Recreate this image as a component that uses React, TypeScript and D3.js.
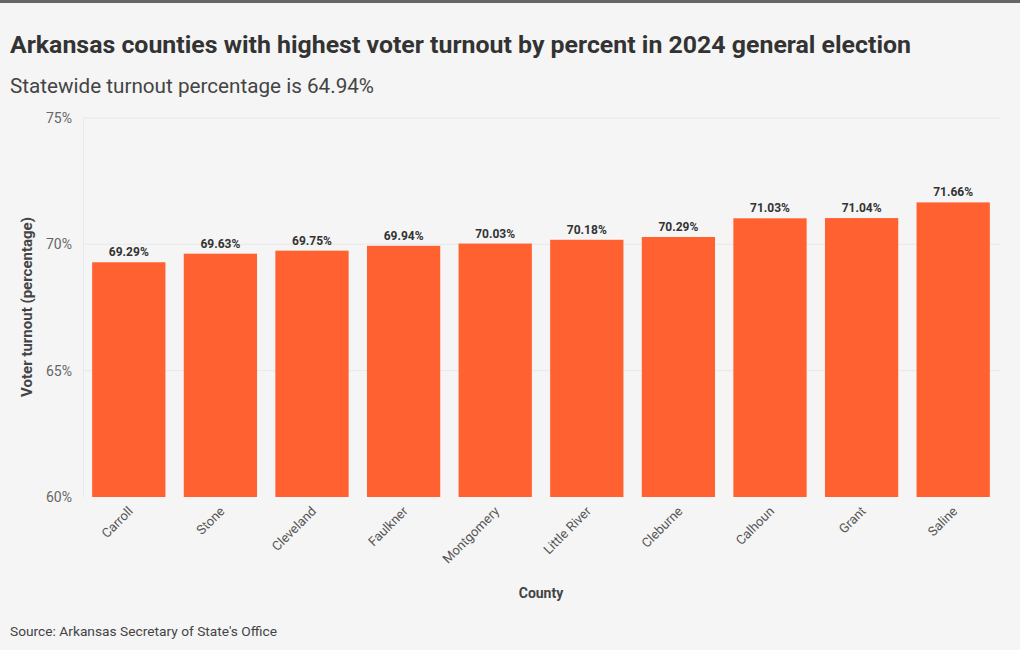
import React from "react";
import * as d3 from "d3";

const counties = ["Carroll", "Stone", "Cleveland", "Faulkner", "Montgomery", "Little River", "Cleburne", "Calhoun", "Grant", "Saline"];
const turnout = [69.29, 69.63, 69.75, 69.94, 70.03, 70.18, 70.29, 71.03, 71.04, 71.66];
const yTicks = [60, 65, 70, 75];

const W = 1020, H = 650;
const FONT = "Roboto, 'Noto Sans', sans-serif";

export default function App() {
  const x = d3.scaleBand<string>().domain(counties).range([83, 999]).paddingInner(0.2).paddingOuter(0.1);
  const y = d3.scaleLinear().domain([60, 75]).range([497, 118]);
  return (
    <svg width={W} height={H} style={{ position: "absolute", left: 0, top: 0, fontFamily: FONT }}>
      <rect x={0} y={0} width={W} height={H} fill="#f5f5f5" />
      <rect x={0} y={0} width={W} height={3} fill="#666666" />
      <text x={10} y={53} fontSize={23} fontWeight={700} fill="#333" textLength={901} lengthAdjust="spacingAndGlyphs">Arkansas counties with highest voter turnout by percent in 2024 general election</text>
      <text x={10} y={93} fontSize={20.5} fill="#444" textLength={364} lengthAdjust="spacingAndGlyphs">Statewide turnout percentage is 64.94%</text>
      {yTicks.map(t => (
        <g key={t}>
          {t !== 60 && <line x1={83} x2={1000} y1={y(t)} y2={y(t)} stroke="#e8e8e8" strokeWidth={1} />}
          <text x={72} y={y(t)} dy="0.35em" textAnchor="end" fontSize={14} fill="#666">{t}%</text>
        </g>
      ))}
      <line x1={83.5} x2={83.5} y1={118} y2={497} stroke="#e8e8e8" />
      {counties.map((c, i) => {
        const bx = x(c)!;
        const bw = x.bandwidth();
        const cx = bx + bw / 2;
        return (
          <g key={c}>
            <rect x={bx} y={y(turnout[i])} width={bw} height={y(60) - y(turnout[i])} fill="#FF6130" />
            <text x={cx} y={y(turnout[i]) - 6} textAnchor="middle" fontSize={12} fontWeight={700} fill="#333">{turnout[i].toFixed(2)}%</text>
            <text transform={`translate(${cx + 5},${512}) rotate(-45)`} textAnchor="end" fontSize={13} fill="#555">{c}</text>
          </g>
        );
      })}
      <text transform={`translate(32,307) rotate(-90)`} textAnchor="middle" fontSize={15} fontWeight={700} fill="#444">Voter turnout (percentage)</text>
      <text x={541} y={598} textAnchor="middle" fontSize={14} fontWeight={700} fill="#444">County</text>
      <text x={10} y={636} fontSize={13.5} fill="#444" textLength={267} lengthAdjust="spacingAndGlyphs">Source: Arkansas Secretary of State's Office</text>
    </svg>
  );
}
